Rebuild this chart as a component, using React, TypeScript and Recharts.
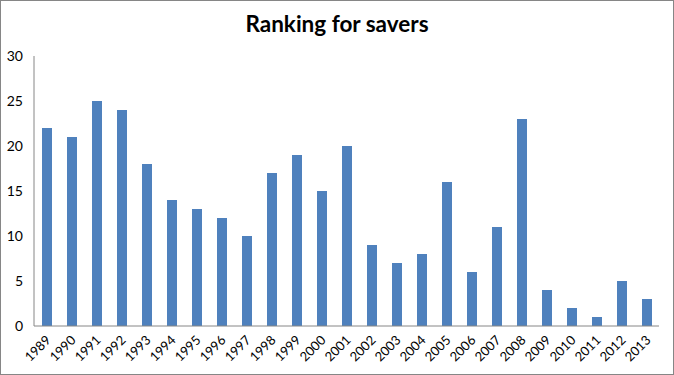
import React from "react";
import { BarChart, Bar, XAxis, YAxis } from "recharts";

const years = ["1989","1990","1991","1992","1993","1994","1995","1996","1997","1998","1999","2000","2001","2002","2003","2004","2005","2006","2007","2008","2009","2010","2011","2012","2013"];
const ranks = [22,21,25,24,18,14,13,12,10,17,19,15,20,9,7,8,16,6,11,23,4,2,1,5,3];
const yTicks = [0,5,10,15,20,25,30];

const data = years.map((y, i) => ({ year: y, rank: ranks[i] }));

const XTick = (props: any) => {
  const { x, y, payload } = props;
  return (
    <g transform={`translate(${x + 5},${y + 7})`}>
      <text textAnchor="end" transform="rotate(-45)" fontSize={13} fill="#000" fontFamily="Lato, 'Open Sans', sans-serif">{payload.value}</text>
    </g>
  );
};

const YTick = (props: any) => {
  const { y, payload } = props;
  return (
    <text x={23} y={y} dy={5} textAnchor="end" fontSize={14} fill="#000" fontFamily="Lato, 'Open Sans', sans-serif">{payload.value}</text>
  );
};

export default function App() {
  return (
    <div style={{ position: "absolute", left: 0, top: 0, width: 674, height: 375, background: "#fff" }}>
      <div style={{ position: "absolute", left: 0, top: 0, width: 674, height: 375, border: "1px solid #868686", boxSizing: "border-box", pointerEvents: "none", zIndex: 2 }} />
      <div style={{ position: "absolute", left: 0, top: 10, width: 674, textAlign: "center", fontFamily: "Lato, 'Open Sans', sans-serif", fontWeight: 700, fontSize: 22.5, color: "#000" }}>Ranking for savers</div>
      <BarChart width={674} height={375} data={data} margin={{ top: 56, right: 15, left: 0, bottom: 0 }} barCategoryGap={0}>
        <XAxis dataKey="year" interval={0} height={49} tickLine={false} axisLine={{ stroke: "#868686" }} tick={<XTick />} />
        <YAxis domain={[0, 30]} ticks={yTicks} width={34} tickLine={false} axisLine={{ stroke: "#868686" }} tick={<YTick />} />
        <Bar dataKey="rank" fill="#4F81BD" barSize={10} isAnimationActive={false} />
      </BarChart>
    </div>
  );
}
